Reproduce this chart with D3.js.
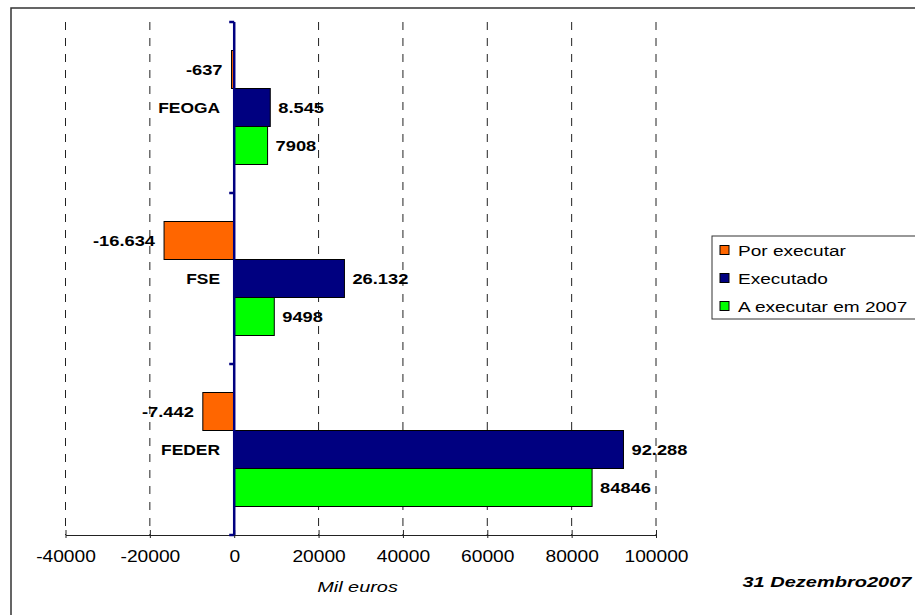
<!DOCTYPE html>
<html>
<head>
<meta charset="utf-8">
<script src="https://cdn.jsdelivr.net/npm/d3@7"></script>
<style>
  html, body { margin: 0; padding: 0; background: #fff; }
  svg { display: block; font-family: "Liberation Sans", Arial, sans-serif; }
</style>
</head>
<body>
<svg id="chart" width="915" height="615"></svg>
<script>
// Funds and series
const categories = ["FEOGA", "FSE", "FEDER"];
const seriesNames = ["Por executar", "Executado", "A executar em 2007"];
const porExecutar = [-637, -16634, -7442];
const executado = [8545, 26132, 92288];
const aExecutar = [7908, 9498, 84846];
const xTicks = [-40000, -20000, 0, 20000, 40000, 60000, 80000, 100000];
const axisTitle = "Mil euros";
const dateNote = "31 Dezembro2007";

const seriesValues = [porExecutar, executado, aExecutar];
const colors = ["#FF6600", "#000080", "#00FF00"];

const svg = d3.select("#chart");

// Outer frame (runs past the right and bottom edges)
svg.append("rect")
  .attr("x", 11).attr("y", 8)
  .attr("width", 1000).attr("height", 700)
  .attr("fill", "none").attr("stroke", "#333").attr("stroke-width", 1.5);

const x = d3.scaleLinear().domain([-40000, 100000]).range([65.5, 656]);
const y0 = d3.scaleBand().domain(categories).range([22, 535]);
const y1 = d3.scaleBand().domain(seriesNames)
  .range([0, y0.bandwidth()]).paddingInner(0).paddingOuter(0.75);

const [yTop, yBottom] = y0.range();

// Horizontally stretched text helper
function label(g, px, py, str, o) {
  return g.append("text")
    .attr("transform", `translate(${px},${py}) scale(${o.sx || 1},1)`)
    .attr("text-anchor", o.anchor || "start")
    .attr("dy", o.dy || null)
    .attr("font-size", o.size)
    .attr("font-weight", o.weight || "normal")
    .attr("font-style", o.style || "normal")
    .attr("fill", "#000")
    .text(str);
}

// Number formats with a plain hyphen for negatives
const ptLocale = d3.formatLocale({ decimal: ",", thousands: ".", grouping: [3], currency: ["", ""], minus: "-" });
const plainLocale = d3.formatLocale({ decimal: ".", thousands: "", grouping: [3], currency: ["", ""], minus: "-" });
const formats = [ptLocale.format(",d"), ptLocale.format(",d"), plainLocale.format("d")];

// Dashed vertical gridlines
svg.append("g").selectAll("line")
  .data(xTicks.filter(d => d !== 0))
  .join("line")
  .attr("x1", d => x(d)).attr("x2", d => x(d))
  .attr("y1", yTop).attr("y2", yBottom)
  .attr("stroke", "#222").attr("stroke-width", 1)
  .attr("stroke-dasharray", "8,8");

// Bottom axis
const xAxis = svg.append("g")
  .attr("transform", `translate(0,${yBottom})`)
  .call(d3.axisBottom(x).tickValues(xTicks).tickFormat(plainLocale.format("d")).tickSizeOuter(0));
xAxis.select(".domain").attr("stroke", "#222");
xAxis.selectAll(".tick line").attr("y1", -5).attr("y2", 3).attr("stroke", "#222");
xAxis.selectAll(".tick text")
  .attr("y", 27).attr("dy", null)
  .attr("font-size", 16)
  .attr("font-family", "Liberation Sans, Arial, sans-serif")
  .attr("fill", "#000")
  .attr("transform", "scale(1.2,1)");

// Bars and value labels
const barsG = svg.append("g");
const labelsG = svg.append("g");
seriesValues.forEach((vals, si) => {
  categories.forEach((cat, ci) => {
    const v = vals[ci];
    const yy = y0(cat) + y1(seriesNames[si]);
    barsG.append("rect")
      .attr("x", x(Math.min(0, v)))
      .attr("y", yy)
      .attr("width", Math.abs(x(v) - x(0)))
      .attr("height", y1.bandwidth())
      .attr("fill", colors[si])
      .attr("stroke", "#000").attr("stroke-width", 1);
    const neg = v < 0;
    label(labelsG, neg ? x(v) - 9 : x(v) + 8, yy + y1.bandwidth() / 2, formats[si](v),
      { size: 15, weight: "bold", sx: 1.22, anchor: neg ? "end" : "start", dy: "0.36em" });
  });
});

// Category axis (vertical line at zero with ticks at band edges)
const yAxis = svg.append("g");
yAxis.append("line")
  .attr("x1", x(0)).attr("x2", x(0))
  .attr("y1", yTop).attr("y2", yBottom)
  .attr("stroke", "#000080").attr("stroke-width", 2.5);
const edges = categories.map(c => y0(c)).concat([yBottom]);
yAxis.selectAll(".edge").data(edges).join("line")
  .attr("x1", x(0) - 5).attr("x2", x(0))
  .attr("y1", d => d).attr("y2", d => d)
  .attr("stroke", "#000080").attr("stroke-width", 2.5);

categories.forEach(cat => {
  label(svg, 220, y0(cat) + y0.bandwidth() / 2, cat,
    { size: 15, weight: "bold", sx: 1.16, anchor: "end", dy: "0.36em" });
});

// Axis title and date
label(svg, 357.5, 592, axisTitle, { size: 14, style: "italic", sx: 1.42, anchor: "middle" });
label(svg, 911.5, 587, dateNote, { size: 14, weight: "bold", style: "italic", sx: 1.43, anchor: "end" });

// Legend
const legend = svg.append("g");
legend.append("rect")
  .attr("x", 712).attr("y", 236).attr("width", 260).attr("height", 83)
  .attr("fill", "#fff").attr("stroke", "#333").attr("stroke-width", 1);
seriesNames.forEach((name, i) => {
  const cy = 250 + i * 28;
  legend.append("rect")
    .attr("x", 720).attr("y", cy - 4.5).attr("width", 9).attr("height", 9)
    .attr("fill", colors[i]).attr("stroke", "#000").attr("stroke-width", 1);
  label(legend, 738, cy + 5.5, name, { size: 15, sx: 1.27 });
});
</script>
</body>
</html>
